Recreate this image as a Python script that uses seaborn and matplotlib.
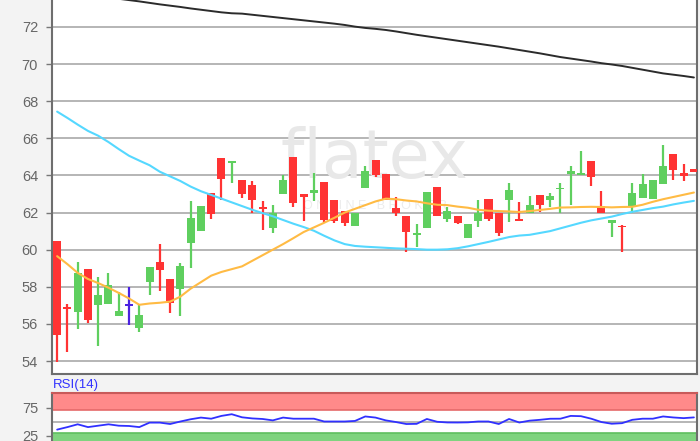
import numpy as np
import pandas as pd
import matplotlib
matplotlib.use("Agg")
import matplotlib.pyplot as plt
import seaborn as sns

# ---------------- data ----------------
opens = [60.45, 56.9, 56.66, 58.94, 57.0, 57.07, 56.44, 57.04, 55.76, 58.27,
         59.34, 58.44, 57.9, 60.35, 61.02, 63.08, 64.96, 64.7, 63.73, 63.5,
         62.25, 61.15, 62.99, 64.98, 63.0, 63.08, 63.63, 62.65, 62.06, 61.28,
         63.31, 64.81, 64.1, 62.27, 61.8, 60.82, 61.15, 63.36, 61.63, 61.8,
         60.64, 61.55, 62.73, 61.96, 62.65, 61.62, 62.0, 62.97, 62.65, 63.28,
         64.06, 64.06, 64.8, 62.33, 61.42, 61.27, 62.35, 62.81, 62.74, 63.52,
         65.15, 64.12, 64.36]
highs = [60.45, 57.07, 59.35, 58.94, 58.54, 58.73, 57.74, 57.97, 57.0, 59.08,
         60.32, 58.44, 59.27, 62.6, 62.35, 63.08, 64.96, 64.75, 63.73, 63.68,
         62.6, 62.4, 64.02, 64.98, 63.0, 64.12, 63.63, 62.65, 62.06, 61.96,
         64.52, 64.81, 64.1, 62.82, 61.8, 61.36, 63.12, 63.36, 62.3, 61.8,
         61.36, 62.65, 62.73, 61.96, 63.57, 62.55, 62.87, 62.97, 63.08, 63.57,
         64.53, 65.3, 64.8, 63.14, 61.6, 61.33, 63.62, 64.07, 63.73, 65.64,
         65.15, 64.6, 64.36]
lows = [53.95, 54.5, 55.72, 56.07, 54.82, 57.07, 56.44, 55.94, 55.56, 57.56,
        57.79, 56.59, 56.4, 59.0, 61.02, 61.63, 62.65, 63.57, 62.81, 62.0,
        61.06, 60.92, 62.99, 62.3, 61.53, 62.6, 61.42, 61.45, 61.28, 61.28,
        63.31, 63.9, 62.7, 61.82, 59.9, 60.16, 61.15, 61.8, 61.47, 61.38,
        60.64, 61.2, 61.55, 60.74, 61.47, 61.55, 62.0, 62.05, 62.3, 61.96,
        62.41, 64.06, 63.43, 62.0, 60.7, 59.9, 62.0, 62.81, 62.74, 63.52,
        63.75, 63.72, 64.2]
closes = [55.4, 56.85, 58.73, 56.2, 57.54, 58.08, 56.67, 57.04, 56.48, 59.08,
          58.89, 57.14, 59.12, 61.73, 62.35, 61.92, 63.79, 64.75, 62.98, 62.65,
          62.2, 61.96, 63.75, 62.53, 62.82, 63.2, 61.6, 61.55, 61.42, 61.96,
          64.24, 64.0, 62.7, 62.0, 60.93, 60.88, 63.12, 61.8, 62.08, 61.43,
          61.36, 62.0, 61.65, 60.9, 63.2, 61.58, 62.41, 62.4, 62.87, 63.32,
          64.24, 64.12, 63.94, 62.0, 61.6, 61.22, 63.04, 63.52, 63.73, 64.53,
          64.28, 63.97, 64.2]

sma_long = [73.95, 73.88, 73.81, 73.74, 73.67, 73.6, 73.52, 73.45, 73.38, 73.3,
            73.22, 73.15, 73.08, 73.0, 72.93, 72.86, 72.79, 72.74, 72.72, 72.66,
            72.6, 72.54, 72.48, 72.42, 72.36, 72.3, 72.24, 72.18, 72.11, 72.02,
            71.95, 71.9, 71.84, 71.76, 71.67, 71.58, 71.5, 71.42, 71.34, 71.26,
            71.18, 71.1, 71.02, 70.94, 70.85, 70.76, 70.67, 70.58, 70.48, 70.38,
            70.3, 70.22, 70.14, 70.05, 69.98, 69.9, 69.8, 69.7, 69.6, 69.5,
            69.43, 69.36, 69.28]
sma_mid = [67.44, 67.1, 66.74, 66.4, 66.14, 65.8, 65.42, 65.06, 64.8, 64.55,
           64.2, 63.95, 63.7, 63.4, 63.15, 62.95, 62.75, 62.55, 62.35, 62.15,
           61.97, 61.8, 61.6, 61.4, 61.22, 61.02, 60.75, 60.5, 60.3, 60.2,
           60.16, 60.13, 60.1, 60.07, 60.05, 60.03, 60.0, 60.0, 60.02, 60.08,
           60.18, 60.3, 60.42, 60.55, 60.68, 60.76, 60.8, 60.9, 61.0, 61.15,
           61.3, 61.45, 61.58, 61.68, 61.78, 61.92, 62.04, 62.14, 62.24, 62.32,
           62.44, 62.54, 62.63]
sma_short = [59.65, 59.22, 58.75, 58.42, 58.2, 57.95, 57.67, 57.37, 57.03, 57.1,
             57.14, 57.2, 57.47, 57.9, 58.25, 58.6, 58.8, 58.95, 59.1, 59.4,
             59.7, 60.0, 60.3, 60.62, 60.95, 61.2, 61.45, 61.72, 62.0, 62.2,
             62.4, 62.6, 62.75, 62.72, 62.65, 62.6, 62.5, 62.42, 62.4, 62.32,
             62.26, 62.15, 62.1, 62.08, 62.06, 62.03, 62.08, 62.14, 62.2, 62.27,
             62.28, 62.3, 62.31, 62.3, 62.28, 62.3, 62.31, 62.42, 62.58, 62.72,
             62.84, 62.96, 63.08]
rsi = [35.5, 40, 45, 40, 42.5, 45, 42.5, 42, 40, 48,
       48, 45.5, 50, 54, 57, 55, 60, 63, 57.5, 55.5,
       54.5, 52, 57, 55, 55, 55, 50, 50, 50, 51,
       59, 57, 52, 49, 45.5, 45.8, 54.5, 49.5, 48.3, 48.2,
       48.5, 50, 50, 45.5, 54.5, 48.2, 51.5, 53, 54.9, 55,
       60, 59.5, 55, 49, 46, 47, 53, 55, 55, 59,
       57.2, 56, 57.3]

price_ticks = [54, 56, 58, 60, 62, 64, 66, 68, 70, 72]
rsi_ticks = [25, 75]
rsi_label = "RSI(14)"

# ---------------- style ----------------
sns.set_style("white")
plt.rcParams["font.family"] = ["Liberation Sans", "DejaVu Sans"]

W, H = 700, 441
fig = plt.figure(figsize=(W / 100, H / 100), dpi=100)
fig.patch.set_facecolor("#f3f3f3")

def fx(px):
    return px / W

def fy(py):
    return 1 - py / H

# main price axes
ax = fig.add_axes([fx(52), fy(374), fx(697) - fx(52), fy(0) - fy(374)])
ax.set_facecolor("white")

df = pd.DataFrame({"o": opens, "h": highs, "l": lows, "c": closes})
df["i"] = np.arange(len(df))
up = "#5fcf5f"
down = "#ff3333"
doji = "#4b22e0"
colors = [up if c > o else (down if c < o else doji) for o, c in zip(df.o, df.c)]

width = 0.78
for i, row in df.iterrows():
    col = colors[i]
    ax.vlines(row.i, row.l, row.h, color=col, lw=1.6, zorder=3)
    lo = min(row.o, row.c)
    hgt = abs(row.c - row.o)
    if hgt < 0.1:
        lo = (row.o + row.c) / 2 - 0.05
        hgt = 0.1
    ax.bar(row.i, hgt, bottom=lo, width=width, color=col, edgecolor="none",
           zorder=4)

lines = pd.DataFrame({"i": np.arange(len(df)), "long": sma_long,
                      "mid": sma_mid, "short": sma_short})
sns.lineplot(data=lines, x="i", y="long", ax=ax, color="#2b2b2b", lw=1.4,
             zorder=5)
sns.lineplot(data=lines, x="i", y="mid", ax=ax, color="#55d8ff", lw=1.5,
             zorder=5)
sns.lineplot(data=lines, x="i", y="short", ax=ax, color="#ffbb44", lw=1.5,
             zorder=5)

ax.set_xlim(-0.5, 62.3)
ax.set_ylim(53.3, 73.455)
ax.set_yticks(price_ticks)
ax.set_yticklabels([str(t) for t in price_ticks])
ax.set_xticks([])
ax.set_xlabel("")
ax.set_ylabel("")
ax.yaxis.grid(True, color="#b0b0b0", lw=1.3, zorder=0)
ax.set_axisbelow(True)
ax.tick_params(axis="y", length=4, width=1, color="#777777",
               labelcolor="#666666", labelsize=10.5, pad=6, left=True)
for s in ["left", "bottom", "right"]:
    ax.spines[s].set_color("#6e6e6e")
    ax.spines[s].set_linewidth(1.5)
ax.spines["top"].set_visible(False)

# watermark
ax.text(0.5, 0.575, "flatex", transform=ax.transAxes, ha="center",
        va="center", fontsize=48, color="#e8e8e8", zorder=1,
        family="DejaVu Sans")
ax.text(0.5, 0.45, "O N L I N E   B R O K E R", transform=ax.transAxes,
        ha="center", va="center", fontsize=9, color="#ececec", zorder=1)

# RSI axes
r_top, r_bot = 393.5, 449.5
rax = fig.add_axes([fx(52), fy(r_bot), fx(697) - fx(52), fy(r_top) - fy(r_bot)])
rax.set_facecolor("white")
rax.axhspan(70, 100, color="#ff8a8a", zorder=1, lw=0)
rax.axhline(70, color="#e56a6a", lw=1.2, zorder=2)
rax.axhspan(0, 30, color="#7fd37f", zorder=1, lw=0)
rax.axhline(30, color="#5fbf5f", lw=1.2, zorder=2)
rax.axhline(50, color="#b0b0b0", lw=1.3, zorder=2)
rdf = pd.DataFrame({"i": np.arange(len(rsi)), "rsi": rsi})
sns.lineplot(data=rdf, x="i", y="rsi", ax=rax, color="#3030ff", lw=1.3,
             zorder=4)
rax.set_xlim(-0.5, 62.3)
rax.set_ylim(0, 100)
rax.set_yticks(rsi_ticks)
rax.set_yticklabels([str(t) for t in rsi_ticks])
rax.set_xticks([])
rax.set_xlabel("")
rax.set_ylabel("")
rax.tick_params(axis="y", length=4, width=1, color="#777777",
                labelcolor="#666666", labelsize=10.5, pad=6, left=True)
for s in ["left", "right", "top"]:
    rax.spines[s].set_color("#6e6e6e")
    rax.spines[s].set_linewidth(1.5)
rax.spines["top"].set_color("#c85a5a")
rax.spines["bottom"].set_visible(False)
fig.text(fx(53), fy(385), rsi_label, color="#3333ff", fontsize=9.5,
         ha="left", va="center")

fig.savefig("out.png", dpi=100, facecolor=fig.get_facecolor())
